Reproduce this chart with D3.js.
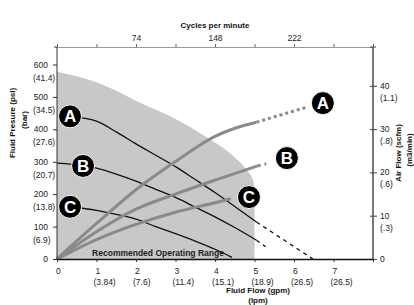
<!DOCTYPE html>
<html><head><meta charset="utf-8">
<script src="https://cdn.jsdelivr.net/npm/d3@7"></script>
<style>
html,body{margin:0;padding:0;background:#fff;}
svg{display:block;font-family:"Liberation Sans",Arial,sans-serif;}
</style></head><body>
<svg id="c" width="414" height="305"></svg>
<script>
// ---- data ----
const flowTicks = [0,1,2,3,4,5,6,7];
const flowLpm = ["", "(3.84)", "(7.6)", "(11.4)", "(15.1)", "(18.9)", "(26.5)", "(26.5)"];
const psiTicks = [0,100,200,300,400,500,600];
const barLabels = ["", "(6.9)", "(13.8)", "(20.7)", "(27.6)", "(34.5)", "(41.4)"];
const scfmTicks = [0,10,20,30,40];
const m3Labels = ["", "(.3)", "(.6)", "(.8)", "(1.1)"];
const cycleTickValues = [0,37,74,111,148,185,222,259,296];
const cycleLabels = [74,148,222];

// recommended operating range boundary (gpm, psi)
const rangeFlow = [0, 0, 1, 1.6, 2.1, 2.94, 3.8, 4.38, 4.81, 4.96, 5.0, 5.0];
const rangePsi  = [0, 578, 545, 513, 482, 436, 375, 326, 273, 243, 225, 0];

// fluid pressure curves (gpm -> psi)
const aFlow = [0.33, 1, 1.5, 2, 2.5, 3, 3.5, 4, 4.5, 5.05];
const aPsi  = [440, 425, 392, 355, 320, 285, 245, 205, 162, 114];
const aDashFlow = [5.05, 6.48];
const aDashPsi  = [114, 0];
const bFlow = [0, 0.66, 1, 1.5, 2, 2.5, 3, 3.5, 4, 4.5, 5.05];
const bPsi  = [296, 288, 280, 262, 240, 215, 190, 160, 130, 97, 58];
const bDashFlow = [5.05, 5.28];
const bDashPsi  = [58, 38];
const cFlow = [0.33, 1, 1.5, 2, 2.5, 3, 3.5, 4, 4.43];
const cPsi  = [162, 150, 138, 123, 100, 78, 55, 30, 5];

// air flow curves (gpm -> scfm)
const airAFlow = [0, 1, 2, 3, 4, 4.5, 5.05];
const airAScfm = [0, 8.2, 16, 22.5, 28.3, 30.2, 31.6];
const airADotFlow = [5.05, 6.3];
const airADotScfm = [31.6, 35];
const airBFlow = [0, 1, 2, 3, 4, 5.08];
const airBScfm = [0, 6.3, 11.5, 15, 18.2, 21.5];
const airBDotFlow = [5.08, 5.3];
const airBDotScfm = [21.5, 22];
const airCFlow = [0, 1, 2, 3, 4, 4.4];
const airCScfm = [0, 4.5, 8, 10.8, 13, 13.9];

// markers
const leftMarkLetters = ["A","B","C"];
const leftMarkFlow = [0.33, 0.66, 0.33];
const leftMarkPsi  = [440, 287, 161];
const rightMarkLetters = ["A","B","C"];
const rightMarkFlow = [6.73, 5.82, 4.86];
const rightMarkScfm = [36, 23.3, 14.3];

// ---- scales ----
const svg = d3.select("#c");
const L = 57, R = 373, T = 47, B = 259;
const FS = 8.5;
const x = d3.scaleLinear().domain([0,8]).range([L,R]);
const xTop = d3.scaleLinear().domain([0,296]).range([L,R]);
const yP = d3.scaleLinear().domain([0,654]).range([B,T]);
const yA = d3.scaleLinear().domain([0,48.96]).range([B,T]);

const zip = (a,b)=>a.map((v,i)=>[v,b[i]]);
const lineP = d3.line().x(d=>x(d[0])).y(d=>yP(d[1])).curve(d3.curveMonotoneX);
const lineA = d3.line().x(d=>x(d[0])).y(d=>yA(d[1])).curve(d3.curveMonotoneX);

// gray region
const rpts = zip(rangeFlow, rangePsi);
const rangeTop = rpts.slice(1, rpts.length-1);
const topPath = d3.line().x(d=>x(d[0])).y(d=>yP(d[1])).curve(d3.curveMonotoneX)(rangeTop);
svg.append("path")
  .attr("d", `M${x(0)},${yP(0)} L${topPath.slice(1)} L${x(5)},${yP(0)} Z`)
  .attr("fill", "#c8c8c8");

svg.append("text").attr("x", 158).attr("y", 256).attr("text-anchor","middle")
  .attr("font-size", 8.5).attr("font-weight","bold").attr("fill","#222")
  .text("Recommended Operating Range");

// black pressure curves
const blk = (pts, dash) => svg.append("path").attr("d", lineP(pts)).attr("fill","none")
  .attr("stroke","#111").attr("stroke-width",1.3).attr("stroke-dasharray", dash||null);
blk(zip(aFlow,aPsi));
blk(zip(aDashFlow,aDashPsi), "4,4");
blk(zip(bFlow,bPsi));
blk(zip(bDashFlow,bDashPsi), "4,4");
blk(zip(cFlow,cPsi));

// gray air curves
const gry = (pts, dash) => svg.append("path").attr("d", lineA(pts)).attr("fill","none")
  .attr("stroke","#8a8a8a").attr("stroke-width",3).attr("stroke-dasharray", dash||null);
gry(zip(airAFlow,airAScfm));
gry(zip(airADotFlow,airADotScfm), "3,3");
gry(zip(airBFlow,airBScfm));
gry(zip(airBDotFlow,airBDotScfm), "3,4");
gry(zip(airCFlow,airCScfm));

// ---- axes ----
// top
const gTop = svg.append("g").attr("transform", `translate(0,${T})`)
  .call(d3.axisTop(xTop).tickValues(cycleTickValues).tickSize(3).tickSizeOuter(0)
    .tickFormat(d => cycleLabels.includes(d) ? d : ""));
gTop.select(".domain").attr("stroke","#999");
gTop.selectAll(".tick line").attr("stroke","#666");
gTop.selectAll("text").attr("font-size",FS).attr("font-family","Liberation Sans, Arial").attr("fill","#222").attr("dy", 0);
svg.append("text").attr("x", 215).attr("y", 28).attr("text-anchor","middle")
  .attr("font-size",8).attr("font-weight","bold").attr("fill","#111").text("Cycles per minute");

// left
const gL = svg.append("g").attr("transform", `translate(${L},0)`)
  .call(d3.axisLeft(yP).tickValues(psiTicks).tickSize(4).tickSizeOuter(0).tickFormat(""));
gL.select(".domain").attr("stroke","#333").attr("d", `M0,${T}V${B}`);
gL.selectAll(".tick line").attr("stroke","#333");
svg.append("line").attr("x1",L-3).attr("x2",L).attr("y1",T).attr("y2",T).attr("stroke","#333");
psiTicks.forEach((v,i)=>{
  svg.append("text").attr("x",48).attr("y",yP(v)+3).attr("text-anchor","end")
    .attr("font-size",FS).attr("fill","#222").text(v);
  if (barLabels[i]) svg.append("text").attr("x",33).attr("y",yP(v)+16).attr("text-anchor","start")
    .attr("font-size",FS).attr("fill","#222").text(barLabels[i]);
});
svg.append("text").attr("transform","translate(15,123) rotate(-90)").attr("text-anchor","middle")
  .attr("font-size",8).attr("font-weight","bold").attr("fill","#111").text("Fluid Presure (psi)");
svg.append("text").attr("transform","translate(27,120) rotate(-90)").attr("text-anchor","middle")
  .attr("font-size",8).attr("font-weight","bold").attr("fill","#111").text("(bar)");

// right
const gR = svg.append("g").attr("transform", `translate(${R},0)`)
  .call(d3.axisRight(yA).tickValues(scfmTicks).tickSize(4).tickSizeOuter(0).tickFormat(""));
gR.select(".domain").attr("stroke","#777").attr("stroke-width",2).attr("d", `M0,${T}V${B}`);
gR.selectAll(".tick line").attr("stroke","#444").attr("x1",-3);
svg.append("line").attr("x1",R-3).attr("x2",R+3).attr("y1",T).attr("y2",T).attr("stroke","#444");
scfmTicks.forEach((v,i)=>{
  svg.append("text").attr("x",380).attr("y",yA(v)+3).attr("text-anchor","start")
    .attr("font-size",FS).attr("fill","#222").text(v);
  if (m3Labels[i]) svg.append("text").attr("x",380).attr("y",yA(v)+15).attr("text-anchor","start")
    .attr("font-size",FS).attr("fill","#222").text(m3Labels[i]);
});
svg.append("text").attr("transform","translate(401,153) rotate(-90)").attr("text-anchor","middle")
  .attr("font-size",8).attr("font-weight","bold").attr("fill","#111").text("Air Flow (scfm)");
svg.append("text").attr("transform","translate(412,150) rotate(-90)").attr("text-anchor","middle")
  .attr("font-size",8).attr("font-weight","bold").attr("fill","#111").text("(m3/min)");

// bottom
const gB = svg.append("g").attr("transform", `translate(0,${B})`)
  .call(d3.axisBottom(x).tickValues(d3.range(0,9)).tickSize(3).tickSizeOuter(0).tickFormat(""));
gB.select(".domain").attr("stroke","#111").attr("stroke-width",1.5);
gB.selectAll(".tick line").attr("stroke","#333");
flowTicks.forEach((v,i)=>{
  svg.append("text").attr("x",x(v)-1).attr("y",274).attr("text-anchor","start")
    .attr("font-size",FS).attr("fill","#222").text(v);
  if (flowLpm[i]) svg.append("text").attr("x",x(v)-3).attr("y",285).attr("text-anchor","start")
    .attr("font-size",FS).attr("fill","#222").text(flowLpm[i]);
});
svg.append("text").attr("x",258).attr("y",293).attr("text-anchor","middle")
  .attr("font-size",8).attr("font-weight","bold").attr("fill","#111").text("Fluid Flow (gpm)");
svg.append("text").attr("x",258).attr("y",303).attr("text-anchor","middle")
  .attr("font-size",8).attr("font-weight","bold").attr("fill","#111").text("(lpm)");

// markers
const marker = (cx, cy, letter) => {
  svg.append("circle").attr("cx",cx).attr("cy",cy).attr("r",11.5).attr("fill","#000")
    .attr("stroke","#fff").attr("stroke-width",1);
  svg.append("text").attr("x",cx).attr("y",cy+6).attr("text-anchor","middle")
    .attr("font-size",17).attr("font-weight","bold").attr("fill","#fff").text(letter);
};
leftMarkLetters.forEach((l,i)=>marker(x(leftMarkFlow[i]), yP(leftMarkPsi[i]), l));
rightMarkLetters.forEach((l,i)=>marker(x(rightMarkFlow[i]), yA(rightMarkScfm[i]), l));
</script></body></html>
